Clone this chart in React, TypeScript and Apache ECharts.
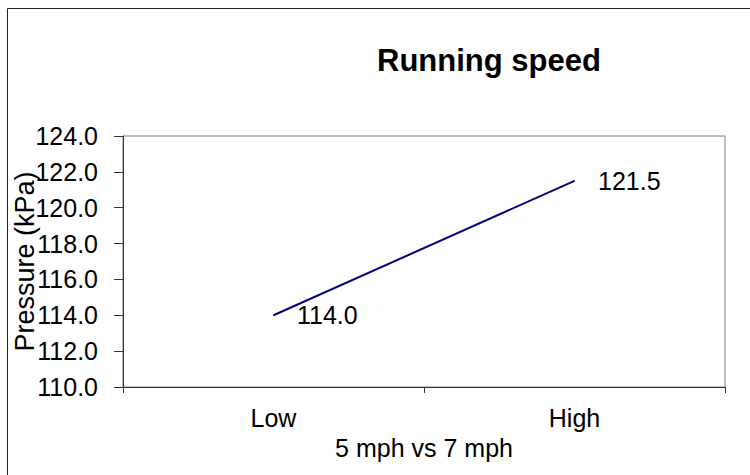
import React, { useEffect, useRef } from "react";
import * as echarts from "echarts";

const categories = ["Low", "High"];
const pressureValues = [114.0, 121.5];
const yMin = 110;
const yMax = 124;
const yStep = 2;
const titleText = "Running speed";
const xAxisName = "5 mph vs 7 mph";
const yAxisName = "Pressure (kPa)";

const FONT = "'Liberation Sans', Arial, sans-serif";

export default function App() {
  const ref = useRef<HTMLDivElement>(null);
  useEffect(() => {
    document.body.style.margin = "0";
    if (!ref.current) return;
    const chart = echarts.init(ref.current, null, { renderer: "svg" });
    chart.setOption({
      animation: false,
      backgroundColor: "#ffffff",
      textStyle: { fontFamily: FONT },
      title: {
        text: titleText,
        left: 372,
        top: 40,
        textStyle: { fontFamily: FONT, fontSize: 31, fontWeight: "bold", color: "#000" },
      },
      graphic: [
        {
          type: "rect",
          left: 5,
          top: 6,
          shape: { x: 0, y: 0, width: 800, height: 600 },
          style: { fill: "none", stroke: "#222", lineWidth: 1 },
          silent: true,
        },
      ],
      grid: {
        left: 123,
        right: 25,
        top: 136,
        bottom: 88,
        containLabel: false,
        outerBoundsMode: "none",
        show: true,
        borderColor: "#808080",
        borderWidth: 1,
        backgroundColor: "transparent",
      },
      xAxis: {
        type: "category",
        data: categories,
        boundaryGap: true,
        name: xAxisName,
        nameLocation: "middle",
        nameGap: 48,
        nameMoveOverlap: false,
        nameTextStyle: { fontFamily: FONT, fontSize: 25, color: "#000" },
        axisLine: { lineStyle: { color: "#333", width: 1 } },
        axisTick: { show: true, length: 6, alignWithLabel: false, lineStyle: { color: "#333" } },
        axisLabel: { fontFamily: FONT, fontSize: 25, color: "#000", margin: 18 },
        splitLine: { show: false },
      },
      yAxis: {
        type: "value",
        min: yMin,
        max: yMax,
        interval: yStep,
        name: yAxisName,
        nameLocation: "middle",
        nameGap: 85,
        nameMoveOverlap: false,
        nameTextStyle: { fontFamily: FONT, fontSize: 27, color: "#000" },
        axisLine: { show: true, lineStyle: { color: "#333", width: 1 } },
        axisTick: { show: true, length: 9, lineStyle: { color: "#333" } },
        axisLabel: {
          fontFamily: FONT,
          fontSize: 25,
          color: "#000",
          margin: 25,
          formatter: (v: number) => v.toFixed(1),
        },
        splitLine: { show: false },
      },
      series: [
        {
          type: "line",
          data: pressureValues,
          showSymbol: true,
          symbol: "circle",
          symbolSize: 1,
          itemStyle: { color: "#000080" },
          lineStyle: { color: "#000080", width: 2 },
          label: {
            show: true,
            position: "right",
            distance: 23,
            fontFamily: FONT,
            fontSize: 25,
            color: "#000",
            formatter: (p: any) => Number(p.value).toFixed(1),
          },
        },
      ],
    });
    return () => chart.dispose();
  }, []);
  return <div ref={ref} style={{ width: 750, height: 475 }} />;
}
